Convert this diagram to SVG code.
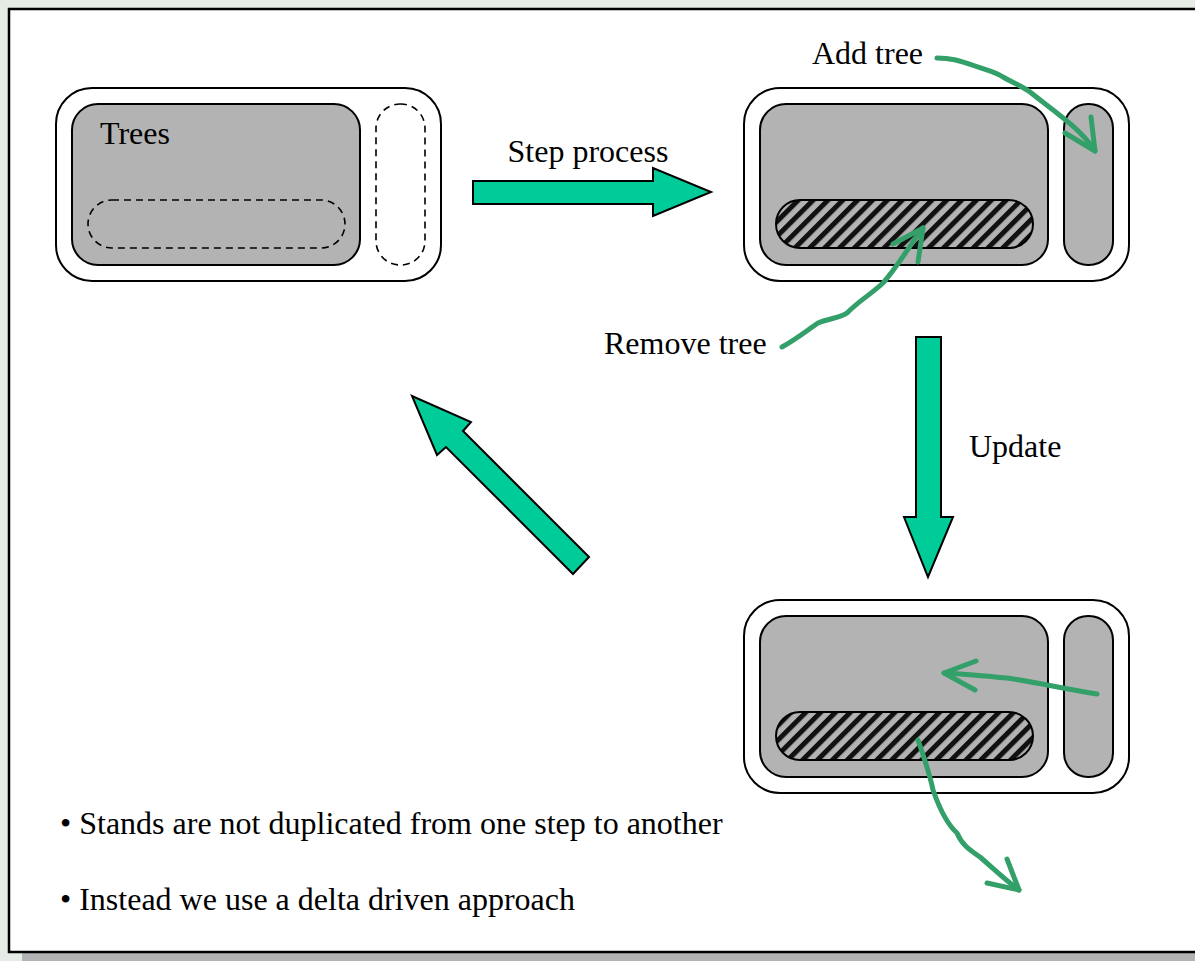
<svg xmlns="http://www.w3.org/2000/svg" width="1195" height="961" viewBox="0 0 1195 961">
  <defs>
    <pattern id="hatch" patternUnits="userSpaceOnUse" width="10.5" height="10.5" patternTransform="rotate(45)">
      <rect width="10.5" height="10.5" fill="#b3b3b3"/>
      <rect x="0" y="0" width="5" height="10.5" fill="#111"/>
    </pattern>
    <style>
      .outer { fill: #ffffff; stroke: #000; stroke-width: 2; }
      .pane { fill: #b3b3b3; stroke: #000; stroke-width: 2; }
      .dash { fill: none; stroke: #000; stroke-width: 1.6; stroke-dasharray: 7 5; }
      .hatch { fill: url(#hatch); stroke: #000; stroke-width: 2; }
      .big { fill: #00cc99; stroke: #000; stroke-width: 2; stroke-linejoin: miter; }
      .pen { fill: none; stroke: #33a06a; stroke-width: 5; stroke-linecap: round; stroke-linejoin: round; }
      .lbl { font-family: "Liberation Serif", "Times New Roman", serif; font-size: 32px; fill: #000; }
    </style>
  </defs>

  <!-- page background and frame -->
  <rect x="0" y="0" width="1195" height="961" fill="#e6ebe6"/>
  <rect x="22" y="953" width="1173" height="8" fill="#b3b3b3"/>
  <rect x="9" y="9" width="1195" height="943" fill="#ffffff" stroke="#000" stroke-width="2.5"/>

  <!-- initial state: trees plus empty add/remove slots -->
  <g id="state-initial">
    <rect class="outer" x="56" y="88" width="385" height="193" rx="36"/>
    <rect class="pane" x="72" y="104" width="288" height="161" rx="26"/>
    <rect class="dash" x="88" y="200" width="257" height="48" rx="24"/>
    <rect class="dash" x="376" y="104" width="49" height="161" rx="24"/>
    <text class="lbl" x="100" y="144">Trees</text>
  </g>

  <!-- after step process -->
  <g id="state-step">
    <rect class="outer" x="744" y="88" width="385" height="193" rx="36"/>
    <rect class="pane" x="760" y="104" width="288" height="161" rx="26"/>
    <rect class="hatch" x="776" y="200" width="257" height="48" rx="24"/>
    <rect class="pane" x="1064" y="104" width="49" height="161" rx="24"/>
  </g>

  <!-- after update -->
  <g id="state-update">
    <rect class="outer" x="744" y="600" width="385" height="193" rx="36"/>
    <rect class="pane" x="760" y="616" width="288" height="161" rx="26"/>
    <rect class="hatch" x="776" y="712" width="257" height="48" rx="24"/>
    <rect class="pane" x="1064" y="616" width="49" height="161" rx="24"/>
  </g>

  <g id="connectors">
    <!-- block arrows of the cycle -->
    <polygon class="big" points="473,181 653,181 653,168 711,192 653,216 653,204 473,204"/>
    <polygon class="big" points="916,337 941,337 941,517 953,517 928,577 904,517 916,517"/>
    <polygon class="big" points="589,557 463,431 471,422 412,396 437,455 446,447 573,574"/>

    <!-- pen strokes -->
    <path class="pen" d="M937,58 C950,58 958,60 975,66 C990,71 996,72 1003,77 C1015,84 1022,86 1030,92 C1055,112 1080,128 1095,151"/>
    <path class="pen" d="M1065,133 L1095,151 L1091,117"/>

    <path class="pen" d="M782,347 C795,340 805,332 818,323 C830,318 840,318 847,313 C860,300 870,295 883,283 C898,266 910,245 923,228"/>
    <path class="pen" d="M893,244 L923,228 L918,262"/>

    <path class="pen" d="M1097,694 C1060,688 1035,682 1007,678 C985,676 965,674 944,673"/>
    <path class="pen" d="M976,661 L944,673 L975,690"/>

    <path class="pen" d="M918,740 C925,760 930,775 933,790 C940,810 948,825 957,833 C962,845 970,850 980,857 C995,870 1005,880 1019,890"/>
    <path class="pen" d="M987,883 L1019,890 L1007,859"/>
  </g>

  <!-- labels -->
  <g id="labels">
    <text class="lbl" x="812" y="64">Add tree</text>
    <text class="lbl" x="588" y="162" text-anchor="middle">Step process</text>
    <text class="lbl" x="604" y="354">Remove tree</text>
    <text class="lbl" x="969" y="457">Update</text>
    <text class="lbl" x="60" y="834">• Stands are not duplicated from one step to another</text>
    <text class="lbl" x="60" y="910">• Instead we use a delta driven approach</text>
  </g>
</svg>
